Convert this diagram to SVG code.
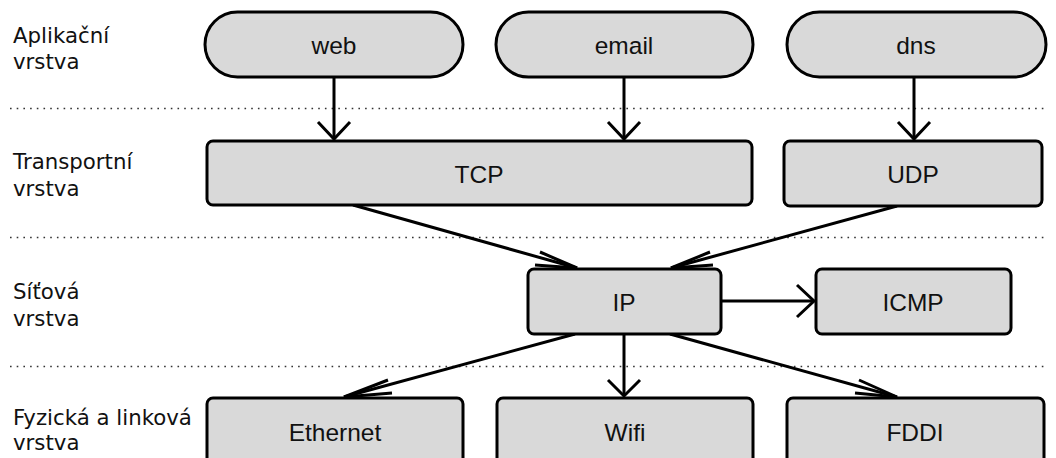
<svg xmlns="http://www.w3.org/2000/svg" width="1056" height="458" viewBox="0 0 1056 458">
<style>
.node{fill:#d9d9d9;stroke:#000;stroke-width:3}
.lbl{font-family:"Liberation Sans",Arial,sans-serif;font-size:24.5px;fill:#111;text-anchor:middle}
.layer{font-family:"DejaVu Sans",Verdana,sans-serif;font-size:21.3px;fill:#111}
.sep{stroke:#333;stroke-width:1.6;stroke-dasharray:1.6 5.1;fill:none}
.conn{stroke:#000;stroke-width:3;fill:none}
.head{stroke:#000;stroke-width:3;fill:none;stroke-linejoin:miter}
</style>
<rect width="1056" height="458" fill="#fff"/>
<g id="layers">
<line class="sep" x1="10" y1="108.5" x2="1048" y2="108.5"/>
<line class="sep" x1="10" y1="237.5" x2="1048" y2="237.5"/>
<line class="sep" x1="10" y1="366.5" x2="1048" y2="366.5"/>
<text class="layer" x="13" y="43">Aplikační</text>
<text class="layer" x="13" y="69">vrstva</text>
<text class="layer" x="13" y="169">Transportní</text>
<text class="layer" x="13" y="196">vrstva</text>
<text class="layer" x="13" y="299">Síťová</text>
<text class="layer" x="13" y="326">vrstva</text>
<text class="layer" x="13" y="425">Fyzická a linková</text>
<text class="layer" x="13" y="450">vrstva</text>
</g>
<g id="connectors">
<line class="conn" x1="334" y1="77" x2="334" y2="139"/>
<path class="head" d="M318,122 L334,139 L350,122"/>
<line class="conn" x1="624" y1="77" x2="624" y2="139"/>
<path class="head" d="M608,122 L624,139 L640,122"/>
<line class="conn" x1="914" y1="77" x2="914" y2="139"/>
<path class="head" d="M898,122 L914,139 L930,122"/>
<line class="conn" x1="353" y1="205" x2="577" y2="268"/>
<path class="head" d="M540,252 L577,268 L535,265"/>
<line class="conn" x1="897" y1="206" x2="671" y2="268"/>
<path class="head" d="M710,252 L671,268 L713,265"/>
<line class="conn" x1="721" y1="301" x2="814" y2="301"/>
<path class="head" d="M797,285 L814,301 L797,317"/>
<line class="conn" x1="575" y1="334" x2="344" y2="397"/>
<path class="head" d="M388,380 L344,397 L392,393"/>
<line class="conn" x1="624" y1="334" x2="624" y2="396"/>
<path class="head" d="M608,380 L624,396 L640,380"/>
<line class="conn" x1="670" y1="334" x2="897" y2="397"/>
<path class="head" d="M859,380 L897,397 L855,393"/>
</g>
<g id="web"><rect class="node" x="205" y="12" width="258" height="65" rx="32.5"/><text class="lbl" x="334" y="54">web</text></g>
<g id="email"><rect class="node" x="496" y="12" width="257" height="65" rx="32.5"/><text class="lbl" x="624" y="54">email</text></g>
<g id="dns"><rect class="node" x="787" y="12" width="259" height="65" rx="32.5"/><text class="lbl" x="916" y="54">dns</text></g>
<g id="tcp"><rect class="node" x="207" y="141" width="545" height="64" rx="6"/><text class="lbl" x="479" y="183">TCP</text></g>
<g id="udp"><rect class="node" x="784" y="141" width="258" height="65" rx="6"/><text class="lbl" x="913" y="183">UDP</text></g>
<g id="ip"><rect class="node" x="528" y="269" width="193" height="65" rx="6"/><text class="lbl" x="624" y="311">IP</text></g>
<g id="icmp"><rect class="node" x="816" y="269" width="195" height="65" rx="6"/><text class="lbl" x="913" y="311">ICMP</text></g>
<g id="ethernet"><rect class="node" x="207" y="398" width="256" height="70" rx="6"/><text class="lbl" x="335" y="441">Ethernet</text></g>
<g id="wifi"><rect class="node" x="497" y="398" width="256" height="70" rx="6"/><text class="lbl" x="625" y="441">Wifi</text></g>
<g id="fddi"><rect class="node" x="787" y="398" width="257" height="70" rx="6"/><text class="lbl" x="915" y="441">FDDI</text></g>
</svg>
